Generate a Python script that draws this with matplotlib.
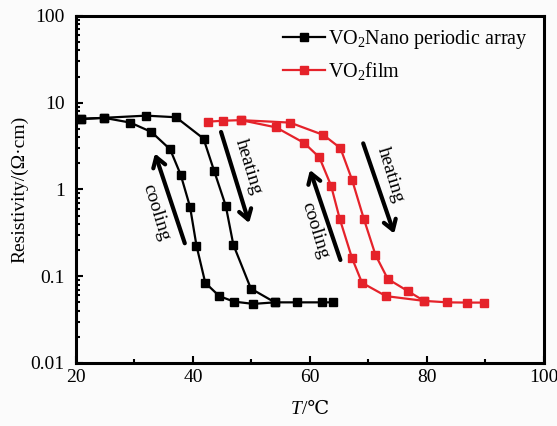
import matplotlib
matplotlib.use("Agg")
import matplotlib.pyplot as plt
from matplotlib.ticker import FixedLocator, FixedFormatter, LogLocator, NullFormatter, MultipleLocator

plt.rcParams['font.family'] = ['Liberation Serif', 'DejaVu Serif']
plt.rcParams['mathtext.fontset'] = 'custom'
plt.rcParams['mathtext.rm'] = 'Liberation Serif'
plt.rcParams['mathtext.it'] = 'Liberation Serif:italic'

# VO2 nano periodic array: heating and cooling branches
nano_heat_T = [20.8, 24.8, 32.0, 37.1, 41.8, 43.6, 45.6, 46.9, 49.9, 54.0, 57.8, 62.0, 64.0]
nano_heat_R = [6.5, 6.7, 7.1, 6.8, 3.86, 1.65, 0.65, 0.231, 0.072, 0.050, 0.050, 0.050, 0.050]
nano_cool_T = [54.0, 50.3, 47.0, 44.5, 42.1, 40.6, 39.5, 37.9, 36.1, 32.9, 29.3, 24.8, 20.8]
nano_cool_R = [0.050, 0.048, 0.051, 0.059, 0.084, 0.225, 0.63, 1.48, 2.9, 4.6, 5.9, 6.7, 6.5]

# VO2 film: heating and cooling branches
film_heat_T = [42.6, 45.1, 48.2, 56.6, 62.3, 65.2, 67.2, 69.2, 71.2, 73.3, 76.8, 79.5, 83.5, 86.8, 89.8]
film_heat_R = [6.05, 6.2, 6.3, 5.9, 4.25, 3.0, 1.29, 0.46, 0.176, 0.093, 0.067, 0.052, 0.050, 0.0497, 0.0497]
film_cool_T = [79.5, 73.0, 68.9, 67.2, 65.1, 63.6, 61.6, 59.0, 54.2, 48.2]
film_cool_R = [0.052, 0.059, 0.084, 0.161, 0.456, 1.11, 2.35, 3.44, 5.2, 6.3]

x_ticks = [20, 40, 60, 80, 100]
y_ticks = [0.01, 0.1, 1, 10, 100]
y_tick_labels = ['0.01', '0.1', '1', '10', '100']

RED = '#e5222a'
fs = 14

fig = plt.figure(figsize=(5.57, 4.26), dpi=100, facecolor='#fbfbfb')
ax = fig.add_axes([0.1364, 0.1479, 0.8402, 0.8146], facecolor='#fbfbfb')

mk = dict(marker='s', markersize=5.5, lw=1.6)
ax.plot(nano_heat_T, nano_heat_R, color='black', label=r'VO$_2$Nano periodic array', **mk)
ax.plot(nano_cool_T, nano_cool_R, color='black', **mk)
ax.plot(film_heat_T, film_heat_R, color=RED, label=r'VO$_2$film', **mk)
ax.plot(film_cool_T, film_cool_R, color=RED, **mk)

ax.set_yscale('log')
ax.set_xlim(20, 100)
ax.set_ylim(0.01, 100)

ax.xaxis.set_major_locator(FixedLocator(x_ticks))
ax.xaxis.set_minor_locator(MultipleLocator(10))
ax.yaxis.set_major_locator(FixedLocator(y_ticks))
ax.yaxis.set_major_formatter(FixedFormatter(y_tick_labels))
ax.yaxis.set_minor_locator(LogLocator(base=10, subs=range(2, 10), numticks=20))
ax.yaxis.set_minor_formatter(NullFormatter())

ax.tick_params(which='both', direction='in', top=False, right=False, labelsize=fs, width=1.5)
ax.tick_params(which='major', length=5)
ax.tick_params(which='minor', length=3)
ax.tick_params(axis='x', pad=4)
ax.tick_params(axis='y', pad=8)
for s in ax.spines.values():
    s.set_linewidth(2.2)

ax.set_ylabel('Resistivity/(Ω·cm)', fontsize=fs, labelpad=2)

ax.legend(loc='upper left', bbox_to_anchor=(0.442, 0.965), fontsize=14.5, frameon=False,
          handlelength=2.1, handletextpad=0.15, borderpad=0, borderaxespad=0,
          labelspacing=0.45)

# direction arrows with labels
arrow_kw = dict(arrowstyle='->,head_length=0.7,head_width=0.45', lw=3, color='black',
                shrinkA=0, shrinkB=0)
arrows = [
    ((38.6, 0.24), (33.5, 2.6), 'cooling', (33.6, 0.55)),
    ((44.8, 4.6), (49.6, 0.41), 'heating', (49.5, 1.83)),
    ((65.2, 0.154), (60.0, 1.68), 'cooling', (60.9, 0.34)),
    ((69.1, 3.4), (74.4, 0.31), 'heating', (73.7, 1.47)),
]
for tail, head, txt, pos in arrows:
    ax.annotate('', xy=head, xytext=tail, arrowprops=arrow_kw)
    ax.text(pos[0], pos[1], txt, rotation=-73, fontsize=fs, ha='center', va='center',
            rotation_mode='anchor')

# x-axis label: italic T followed by "/℃", laid out side by side
fig.canvas.draw()
renderer = fig.canvas.get_renderer()
lab_y = 1 - 410 / 426
t1 = fig.text(0, lab_y, 'T', fontsize=fs, style='italic', family='Liberation Serif', va='center')
t2 = fig.text(0, lab_y, '/℃', fontsize=fs, family=['Liberation Serif', 'DejaVu Serif', 'DejaVu Sans'], va='center')
w1 = t1.get_window_extent(renderer).width
w2 = t2.get_window_extent(renderer).width
cx = 310
x1 = cx - (w1 + w2) / 2
t1.set_x(x1 / 557)
t2.set_x((x1 + w1) / 557)

fig.savefig('out.png', dpi=100, facecolor=fig.get_facecolor())
